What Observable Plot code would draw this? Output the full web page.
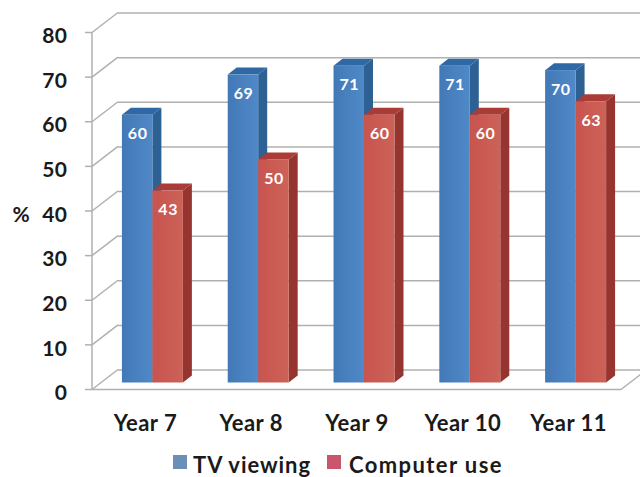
<!DOCTYPE html>
<html>
<head>
<meta charset="utf-8">
<script src="https://cdn.jsdelivr.net/npm/d3@7"></script>
<script src="https://cdn.jsdelivr.net/npm/@observablehq/plot@0.6"></script>
<style>
html,body{margin:0;padding:0;background:#fff;width:640px;height:477px;overflow:hidden}
#legend{position:relative;height:32px;width:640px;font:bold 22px Lato,sans-serif;color:#1a1a1a}
#legend span{position:absolute;white-space:nowrap;line-height:24px;top:8px}
#legend i{position:absolute;width:14px;height:14px;top:10px}
</style>
</head>
<body>
<div id="chart"></div>
<div id="legend"></div>
<script>
const years = ["Year 7", "Year 8", "Year 9", "Year 10", "Year 11"];
const tvViewing = [60, 69, 71, 71, 70];
const computerUse = [43, 50, 60, 60, 63];
const yTicks = [0, 10, 20, 30, 40, 50, 60, 70, 80];
const seriesNames = ["TV viewing", "Computer use"];

const tvRows = years.map((year, i) => ({year, value: tvViewing[i]}));
const pcRows = years.map((year, i) => ({year, value: computerUse[i]}));

const wallDx = 26, wallDy = -20;
const barOffsetX = 7.5, barDepthX = 9, barDepthY = -7;
const halfBar = 15.25;
const gridColor = "#b0b0ac";

const blue = {front: "url(#blueFront)", side: "#2d6093", top: "#2f69a5"};
const red = {front: "url(#redFront)", side: "#96352f", top: "#ab3b37"};

function poly(points, fill) {
  const p = document.createElementNS("http://www.w3.org/2000/svg", "polygon");
  p.setAttribute("points", points.map(d => d.join(",")).join(" "));
  p.setAttribute("fill", fill);
  return p;
}
function svgLine(x1, y1, x2, y2) {
  const l = document.createElementNS("http://www.w3.org/2000/svg", "line");
  for (const [k, v] of Object.entries({x1, y1, x2, y2})) l.setAttribute(k, v);
  l.setAttribute("stroke", gridColor);
  l.setAttribute("stroke-width", 1.5);
  return l;
}

function defsMark() {
  const g = document.createElementNS("http://www.w3.org/2000/svg", "g");
  g.innerHTML = `<defs>
    <linearGradient id="blueFront"><stop offset="0" stop-color="#4378b6"/><stop offset="1" stop-color="#5089c8"/></linearGradient>
    <linearGradient id="redFront"><stop offset="0" stop-color="#c8544e"/><stop offset="1" stop-color="#cc6258"/></linearGradient>
  </defs>`;
  return g;
}

// Walls: slanted ticks on the left wall, axis lines and the floor edge, all from the y scale
function wallMark(index, {y}, values, {width, height, marginLeft, marginRight}) {
  const g = document.createElementNS("http://www.w3.org/2000/svg", "g");
  const left = marginLeft, right = width - marginRight;
  for (const t of yTicks) {
    g.appendChild(svgLine(left - 7, y(t), left, y(t)));
    g.appendChild(svgLine(left, y(t), left + wallDx, y(t) + wallDy));
  }
  g.appendChild(svgLine(left, y(80), left, y(0)));
  g.appendChild(svgLine(left, y(0), right, y(0)));
  g.appendChild(svgLine(right, y(0), right + wallDx, y(0) + wallDy));
  return g;
}

// 3D faces of each bar, placed through the x and y scales
function barFaces(rows, shift, colors) {
  return (index, {x, y}) => {
    const g = document.createElementNS("http://www.w3.org/2000/svg", "g");
    const w = x.bandwidth();
    for (const {year, value} of rows) {
      const x0 = x(year) + shift + barOffsetX;
      const x1 = x0 + w;
      const t = y(value) + barDepthY, b = y(0) + barDepthY;
      g.appendChild(poly([[x1, t], [x1 + barDepthX, t + barDepthY], [x1 + barDepthX, b + barDepthY], [x1, b]], colors.side));
      g.appendChild(poly([[x0, t], [x0 + barDepthX, t + barDepthY], [x1 + barDepthX, t + barDepthY], [x1, t]], colors.top));
    }
    return g;
  };
}

function barFront(rows, shift, fill) {
  return Plot.barY(rows, {x: "year", y: "value", fill, dx: shift + barOffsetX, dy: barDepthY});
}

function barLabel(rows, shift) {
  return Plot.text(rows, {
    x: "year", y: "value", text: d => String(d.value),
    dx: shift + barOffsetX, dy: barDepthY + 19,
    fill: "white", fontWeight: "bold", fontSize: 16
  });
}

const chart = Plot.plot({
  width: 640,
  height: 445,
  marginLeft: 92,
  marginRight: 19,
  marginTop: 32.5,
  marginBottom: 55.5,
  style: {fontFamily: "Lato, sans-serif", background: "transparent", overflow: "hidden", letterSpacing: "0.5px"},
  x: {type: "band", domain: years, paddingInner: 0.712, paddingOuter: 0.356, round: false},
  y: {domain: [0, 80], ticks: yTicks},
  marks: [
    defsMark,
    Plot.ruleY(yTicks, {dx: wallDx, dy: wallDy, stroke: gridColor, strokeWidth: 1.5, strokeOpacity: 1}),
    wallMark,
    Plot.axisY({ticks: yTicks, tickSize: 0, tickPadding: 25, dy: 3.5, fontSize: 21, fontWeight: "bold", fill: "#1a1a1a", label: null}),
    Plot.axisX({tickSize: 0, tickPadding: 25, fontSize: 22, fontWeight: "bold", fill: "#1a1a1a", label: null}),
    Plot.text(["%"], {y: [40], frameAnchor: "left", dx: -80, dy: 3.5, textAnchor: "start", fontSize: 21, fontWeight: "bold", fill: "#1a1a1a"}),
    barFaces(tvRows, -halfBar, blue),
    barFront(tvRows, -halfBar, blue.front),
    barFaces(pcRows, halfBar, red),
    barFront(pcRows, halfBar, red.front),
    barLabel(tvRows, -halfBar),
    barLabel(pcRows, halfBar)
  ]
});
document.getElementById("chart").appendChild(chart);

const legend = document.getElementById("legend");
const legendColors = ["#6a8fb9", "#c9566c"];
const swatchLeft = [173, 327], textLeft = [193, 349], textSpacing = ["0.95px", "1.4px"];
seriesNames.forEach((name, i) => {
  const sw = document.createElement("i");
  sw.style.left = swatchLeft[i] + "px";
  sw.style.background = legendColors[i];
  legend.appendChild(sw);
  const t = document.createElement("span");
  t.style.left = textLeft[i] + "px";
  t.style.letterSpacing = textSpacing[i];
  t.textContent = name;
  legend.appendChild(t);
});
</script>
</body>
</html>
